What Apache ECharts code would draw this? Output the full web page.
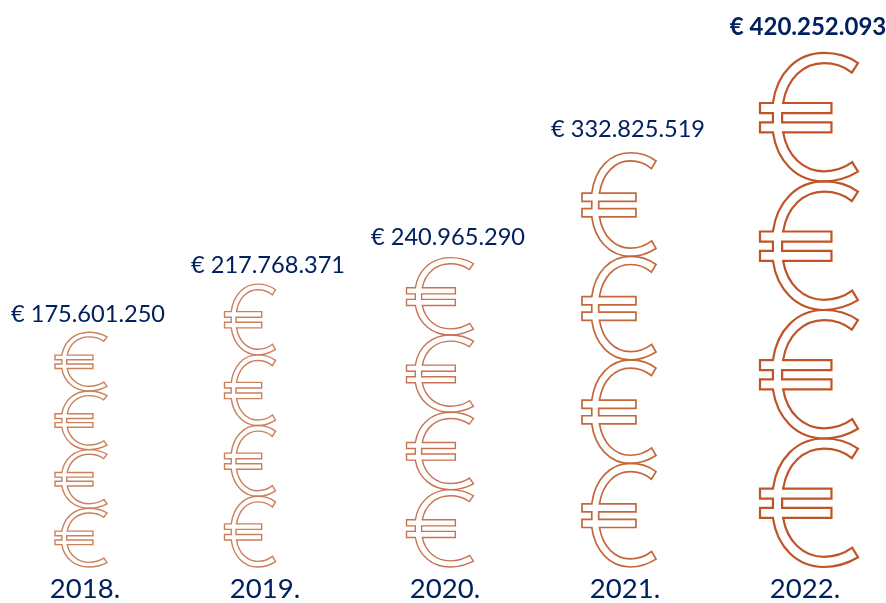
<!DOCTYPE html>
<html>
<head>
<meta charset="utf-8">
<style>html,body{margin:0;padding:0;background:#fff}#c{width:886px;height:603px}</style>
<script src="https://cdn.jsdelivr.net/npm/echarts@6/dist/echarts.min.js"></script>
</head>
<body>
<div id="c"></div>
<script>
const years = ['2018.', '2019.', '2020.', '2021.', '2022.'];
const amounts = [175601250, 217768371, 240965290, 332825519, 420252093];
const coinsPerColumn = 4;

const glyphWidths = [52, 51, 67, 74, 98];
const glyphShifts = [-4, -15, -5, -6, 4];
const labelShifts = [3, 3, 3, 3, 3];
const labelGaps = [18, 18.5, 20, 23, 26];
const strokeWidths = [1.4, 1.4, 1.4, 1.7, 2.2];
const strokeColors = ['#CB7F5B', '#CB7F5B', '#C77250', '#C4683C', '#BF5526'];
const navy = '#002060';

const euro = 'M290,30 C262,10 228,0 190,0 C110,0 52,60 40,148 L2,148 L2,178 L40,178 L40,205 L2,205 L2,235 L40,235 ' +
  'C52,320 110,380 190,380 C228,380 262,368 290,351 L273,323 C250,340 222,350 190,350 C130,350 82,305 70,235 ' +
  'L212,235 L212,205 L67,205 L67,178 L212,178 L212,148 L70,148 C82,75 130,30 190,30 C222,30 250,40 272,58 Z';

const fmt = v => '€ ' + String(v).replace(/\B(?=(\d{3})+$)/g, '.');
const axisMin = -30000000;

function renderItem(params, api) {
  const i = api.value(0);
  const v = api.value(1);
  const top = api.coord([i, v]);
  const bottom = api.coord([i, axisMin]);
  const h = (bottom[1] - top[1]) / coinsPerColumn;
  const w = glyphWidths[i];
  const cx = top[0] + glyphShifts[i];
  const children = [];
  for (let k = 0; k < coinsPerColumn; k++) {
    children.push({
      type: 'path',
      shape: { pathData: euro, layout: 'cover', x: cx - w / 2, y: top[1] + k * h, width: w, height: h },
      style: { fill: 'none', stroke: strokeColors[i], lineWidth: strokeWidths[i] }
    });
  }
  children.push({
    type: 'text',
    style: {
      x: top[0] + labelShifts[i],
      y: top[1] - labelGaps[i],
      text: fmt(v),
      align: 'center',
      verticalAlign: 'middle',
      fill: navy,
      font: (i === 4 ? 'bold 24px ' : '23.6px ') + 'Lato, Carlito, sans-serif'
    }
  });
  return { type: 'group', children };
}

const chart = echarts.init(document.getElementById('c'), null, { renderer: 'canvas' });
chart.setOption({
  animation: false,
  backgroundColor: '#fff',
  grid: { left: 85, width: 720, top: 19, bottom: 33, containLabel: false },
  xAxis: {
    type: 'category',
    boundaryGap: false,
    data: years,
    axisLine: { show: false },
    axisTick: { show: false },
    axisLabel: { color: navy, fontFamily: 'Lato, Carlito, sans-serif', fontSize: 27.5, margin: 8, interval: 0, alignMinLabel: 'center', alignMaxLabel: 'center' }
  },
  yAxis: {
    type: 'value',
    min: axisMin,
    max: 450000000,
    interval: 30000000,
    show: false,
    splitLine: { show: false }
  },
  series: [{
    type: 'custom',
    renderItem,
    clip: false,
    data: amounts.map((v, i) => [i, v]),
    encode: { x: 0, y: 1 }
  }]
});
</script>
</body>
</html>
